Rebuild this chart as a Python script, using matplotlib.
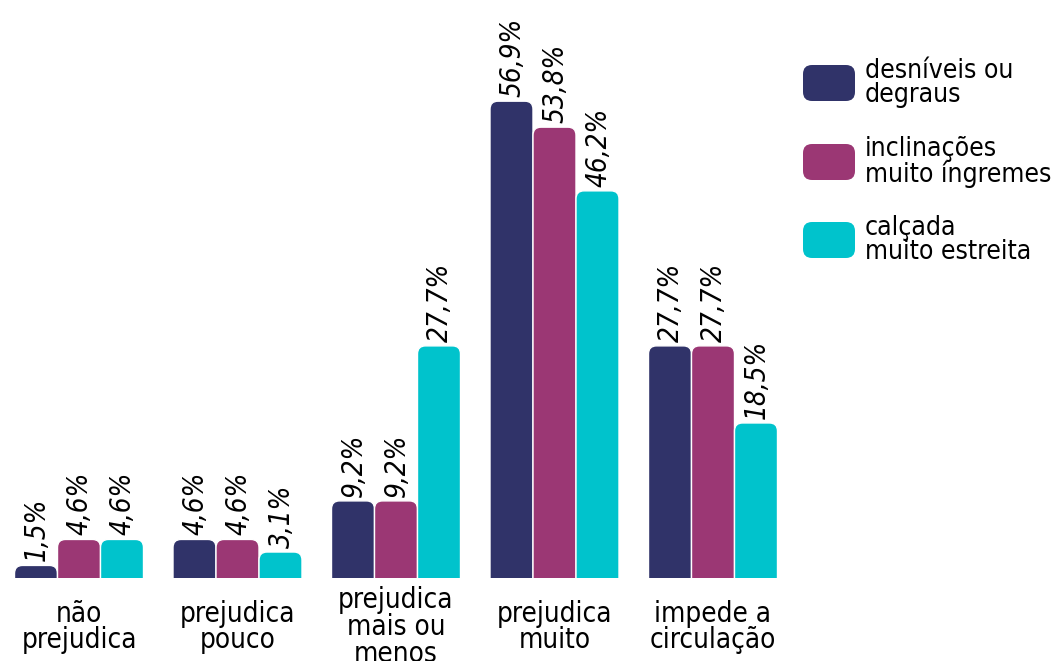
import matplotlib.pyplot as plt
from matplotlib.patches import FancyBboxPatch
import numpy as np

# Categories and series.
categories = ['não\nprejudica', 'prejudica\npouco', 'prejudica\nmais ou\nmenos', 'prejudica\nmuito',
              'impede a\ncirculação']
series_names = ['desníveis ou\ndegraus', 'inclinações\nmuito íngremes', 'calçada\nmuito estreita']
desniveis = [1.5, 4.6, 9.2, 56.9, 27.7]
inclinacoes = [4.6, 4.6, 9.2, 53.8, 27.7]
calcada = [4.6, 3.1, 27.7, 46.2, 18.5]
colors = ['#303369', '#9B3774', '#00C3CC']

W, H = 1053, 661
fig = plt.figure(figsize=(W / 100, H / 100), dpi=100)
base_px = 83
ax = fig.add_axes([0, base_px / H, 1, 1 - base_px / H])
ax.set_xlim(-79 / 158.5, (W - 79) / 158.5)
ax.set_ylim(0, (H - base_px) / 8.38)
ax.axis('off')

font = dict(family='DejaVu Sans', fontstretch='condensed')

bw = 43 / 158.5
x = np.arange(len(categories))
px_x = 1 / 158.5        # data units per pixel, x
px_y = 1 / 8.38         # data units per pixel, y
r = 8                   # corner radius in pixels

for k, vals in enumerate([desniveis, inclinacoes, calcada]):
    xs = x + (k - 1) * bw
    ax.bar(xs, vals, bw, color='none')
    for xi, v in zip(xs, vals):
        # Rounded top, square bottom (lower part is clipped by the axes).
        p = FancyBboxPatch((xi - bw / 2, -r * px_y), bw, v + r * px_y,
                           boxstyle='round,pad=0,rounding_size=%f' % (r * px_x),
                           mutation_aspect=px_y / px_x,
                           facecolor=colors[k], edgecolor='white', linewidth=1)
        ax.add_patch(p)
        ax.text(xi + 1 * px_x, v + 4 * px_y, ('%.1f%%' % v).replace('.', ','), rotation=90,
                ha='center', va='bottom', fontsize=20, style='italic', **font)

# Category labels below the baseline.
for xi, c in zip(x, categories):
    fig.text((79 + xi * 158.5) / W, 34 / H, c, ha='center', va='center', fontsize=20,
             linespacing=0.95, **font)

# Legend drawn by hand: rounded swatches with two-line labels.
leg_y = [83, 162, 240]
for k, (name, yc) in enumerate(zip(series_names, leg_y)):
    sw = FancyBboxPatch((803 / W, (H - yc - 18) / H), 52 / W, 36 / H,
                        boxstyle='round,pad=0,rounding_size=%f' % (9 / W),
                        mutation_aspect=W / H, transform=fig.transFigure,
                        facecolor=colors[k], edgecolor='none')
    fig.patches.append(sw)
    fig.text(865 / W, (H - yc) / H, name, ha='left', va='center', fontsize=19,
             linespacing=0.9, **font)

fig.savefig('out.png', dpi=100)
